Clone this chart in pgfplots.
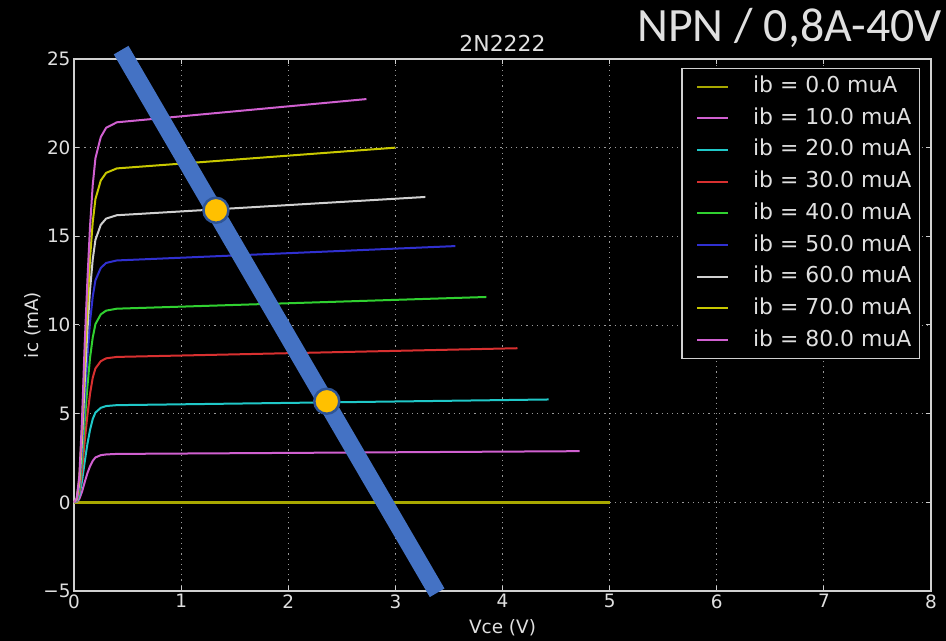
\documentclass[border=0pt]{standalone}
\usepackage{pgfplots}
\pgfplotsset{compat=1.18}
\usepackage{fontspec}
\setmainfont{DejaVu Sans}
\newfontfamily\calfont{Carlito}
\definecolor{colY}{HTML}{C8C800}
\definecolor{colM}{HTML}{D060D0}
\definecolor{colC}{HTML}{20C8C8}
\definecolor{colR}{HTML}{D83030}
\definecolor{colG}{HTML}{30D030}
\definecolor{colB}{HTML}{3030D0}
\definecolor{colW}{HTML}{D0D0D0}
\definecolor{colZ}{HTML}{A8A800}
\definecolor{loadblue}{HTML}{4472C4}
\definecolor{ptfill}{HTML}{FFC000}
\definecolor{ptdraw}{HTML}{2F5597}
\definecolor{fgtext}{HTML}{E0E0E0}
\begin{document}
\begin{tikzpicture}
\useasboundingbox (-74bp,-50bp) rectangle (872bp,591bp);
\fill[black] (-74bp,-50bp) rectangle (872bp,591bp);
\node[anchor=base east, text=fgtext, font=\calfont\fontsize{48}{56}\selectfont, inner sep=0pt] at (868bp,549bp) {NPN / 0,8A-40V};
\begin{axis}[
  at={(0,0)}, anchor=south west,
  scale only axis, width=857bp, height=532bp,
  xmin=0, xmax=8, ymin=-5, ymax=25,
  xtick={0,1,2,3,4,5,6,7,8},
  xticklabels={0,1,2,3,4,5,6,7,8},
  ytick={-5,0,5,10,15,20,25},
  yticklabels={−5,0,5,10,15,20,25},
  tick label style={font=\fontsize{18.5}{22}\selectfont, text=fgtext},
  title style={font=\fontsize{22}{26}\selectfont, text=fgtext, at={(axis description cs:0.5,1.019)}, anchor=center},
  title={2N2222},
  xlabel={Vce (V)},
  ylabel={ic (mA)},
  xlabel style={font=\fontsize{18.5}{22}\selectfont, text=fgtext, at={(axis description cs:0.5,-0.0695)}, anchor=center},
  ylabel style={font=\fontsize{18.5}{22}\selectfont, text=fgtext, at={(axis description cs:-0.048,0.5)}, anchor=center},
  axis line style={draw=colW, line width=1.2bp},
  tick style={draw=colW, line width=1bp},
  major tick length=5bp,
  grid=major,
  major grid style={draw=gray!80, line width=0.9bp, dash pattern=on 1.2bp off 4bp},
  clip=false,
  legend cell align=left,
  legend image code/.code={\path[draw=none, fill=none] (0bp,0bp) rectangle (7bp,0.1bp); \draw[#1, line width=2bp] (7bp,0bp) -- (38bp,0bp);},
  legend style={at={(1,1)}, anchor=north east, xshift=-11bp, yshift=-9bp,
    fill=black, draw=colW, line width=1.2bp, text=fgtext,
    font=\fontsize{22}{26}\selectfont,
    inner xsep=8bp, inner ysep=7bp,
    row sep=9.7bp, column sep=24bp,
    nodes={inner sep=0pt, text height=17bp, text depth=5bp}},
]
\addplot[color=colZ, line width=3bp] coordinates {(0,0) (5,0)};
\addlegendentry{ib = 0.0 muA}
\addplot[color=colM, line width=2bp] coordinates {(0,0) (0.025,0.03) (0.05,0.19) (0.075,0.60) (0.1,1.14) (0.125,1.64) (0.15,2.04) (0.175,2.34) (0.2,2.53) (0.25,2.66) (0.3,2.70) (0.4,2.73) (4.72,2.885)};
\addlegendentry{ib = 10.0 muA}
\addplot[color=colC, line width=2bp] coordinates {(0,0) (0.025,0.05) (0.05,0.38) (0.075,1.20) (0.1,2.29) (0.125,3.28) (0.15,4.10) (0.175,4.70) (0.2,5.06) (0.25,5.33) (0.3,5.43) (0.4,5.48) (4.43,5.80)};
\addlegendentry{ib = 20.0 muA}
\addplot[color=colR, line width=2bp] coordinates {(0,0) (0.025,0.08) (0.05,0.57) (0.075,1.80) (0.1,3.43) (0.125,4.90) (0.15,6.13) (0.175,7.03) (0.2,7.55) (0.25,7.96) (0.3,8.12) (0.4,8.20) (4.14,8.69)};
\addlegendentry{ib = 30.0 muA}
\addplot[color=colG, line width=2bp] coordinates {(0,0) (0.025,0.11) (0.05,0.76) (0.075,2.39) (0.1,4.56) (0.125,6.52) (0.15,8.16) (0.175,9.30) (0.2,10.05) (0.25,10.60) (0.3,10.81) (0.4,10.92) (3.85,11.58)};
\addlegendentry{ib = 40.0 muA}
\addplot[color=colB, line width=2bp] coordinates {(0,0) (0.025,0.14) (0.05,0.95) (0.075,2.99) (0.1,5.71) (0.125,8.15) (0.15,10.20) (0.175,11.60) (0.2,12.52) (0.25,13.22) (0.3,13.50) (0.4,13.64) (3.56,14.45)};
\addlegendentry{ib = 50.0 muA}
\addplot[color=colW, line width=2bp] coordinates {(0,0) (0.025,0.16) (0.05,1.13) (0.075,3.54) (0.1,6.77) (0.125,9.67) (0.15,12.00) (0.175,13.70) (0.2,14.80) (0.25,15.65) (0.3,16.00) (0.4,16.19) (3.28,17.22)};
\addlegendentry{ib = 60.0 muA}
\addplot[color=colY, line width=2bp] coordinates {(0,0) (0.025,0.19) (0.05,1.31) (0.075,4.12) (0.1,7.86) (0.125,11.0) (0.15,13.80) (0.175,15.80) (0.2,17.10) (0.25,18.15) (0.3,18.58) (0.4,18.83) (3.0,20.0)};
\addlegendentry{ib = 70.0 muA}
\addplot[color=colM, line width=2bp] coordinates {(0,0) (0.025,0.21) (0.05,1.49) (0.075,4.69) (0.1,8.95) (0.125,12.50) (0.15,15.60) (0.175,17.90) (0.2,19.40) (0.25,20.60) (0.3,21.12) (0.4,21.43) (2.73,22.74)};
\addlegendentry{ib = 80.0 muA}
\addplot[color=loadblue, line width=17bp, forget plot] coordinates {(0.44,25.5) (3.39,-5.1)};
\addplot[only marks, mark=*, mark size=12.5bp, mark options={fill=ptfill, draw=ptdraw, line width=2.5bp}, forget plot] coordinates {(1.325,16.47) (2.36,5.70)};
\end{axis}
\end{tikzpicture}
\end{document}
